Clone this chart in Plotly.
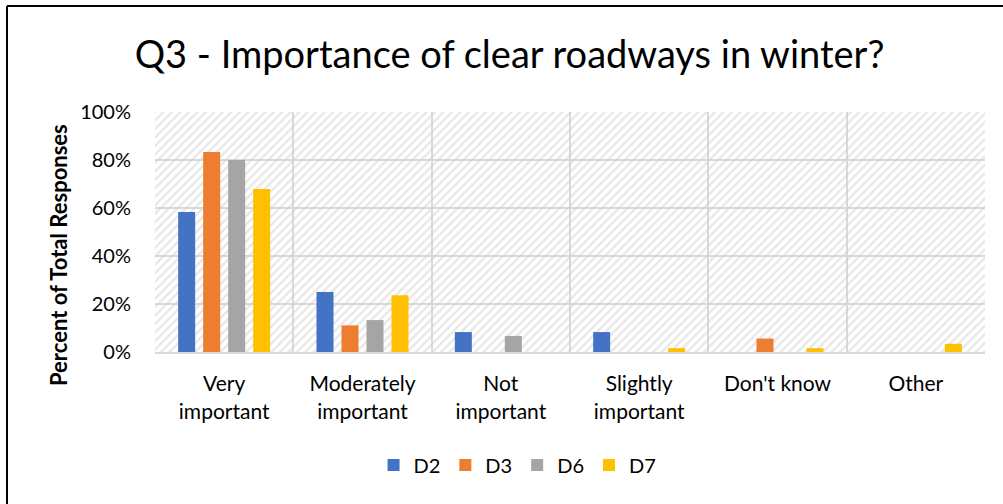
import plotly.graph_objects as go

categories = ["Very<br>important", "Moderately<br>important", "Not<br>important",
              "Slightly<br>important", "Don't know", "Other"]
series_names = ["D2", "D3", "D6", "D7"]
d2 = [58.3, 25.0, 8.3, 8.3, 0, 0]
d3 = [83.3, 11.1, 0, 0, 5.6, 0]
d6 = [80.0, 13.3, 6.7, 0, 0, 0]
d7 = [67.9, 23.6, 0, 1.6, 1.6, 3.4]
colors = ["#4472C4", "#ED7D31", "#A5A5A5", "#FFC000"]
y_ticks = [0, 20, 40, 60, 80, 100]
y_tick_labels = ["0%", "20%", "40%", "60%", "80%", "100%"]
y_title = "Percent of Total Responses"

FONT = "Lato, Calibri, Carlito, sans-serif"

fig = go.Figure()

# hatched plot-area background (on the base axis, drawn beneath the bars)
fig.add_trace(go.Bar(
    x=[0.5], y=[100], width=[1], xaxis="x", yaxis="y",
    marker=dict(color="rgba(0,0,0,0)", line=dict(width=0),
                pattern=dict(shape="/", size=6, solidity=0.4,
                             fgcolor="#d0d0d0", bgcolor="rgba(0,0,0,0)")),
    showlegend=False, hoverinfo="skip",
))

for name, vals, col in zip(series_names, [d2, d3, d6, d7], colors):
    fig.add_trace(go.Bar(x=categories, y=vals, name=name, marker_color=col,
                         marker_line_width=0, xaxis="x2", yaxis="y"))

L, R, T, B = 155, 18, 112, 152
W, H = 1003, 504
pw, ph = W - L - R, H - T - B

fig.update_layout(
    width=W, height=H,
    margin=dict(l=L, r=R, t=T, b=B),
    paper_bgcolor="white", plot_bgcolor="white",
    font=dict(family=FONT, color="#000000", size=20),
    barmode="group", bargap=0.277, bargroupgap=0.32,
    title=dict(text="Q3 - Importance of clear roadways in winter?",
               x=0.508, xref="container", xanchor="center",
               y=1 - 55 / H, yref="container", yanchor="middle",
               font=dict(size=38, family=FONT, color="#000000")),
    xaxis=dict(range=[0, 1], visible=False, showgrid=False, zeroline=False),
    xaxis2=dict(type="category", overlaying="x", side="bottom", anchor="y",
                tickson="boundaries", showgrid=True,
                gridcolor="#d9d9d9", gridwidth=2, ticks="", showline=True,
                linecolor="#d9d9d9", linewidth=2,
                tickfont=dict(size=21, family=FONT), ticklabelstandoff=12),
    yaxis=dict(range=[0, 100], tickvals=y_ticks, ticktext=y_tick_labels,
               showgrid=True, gridcolor="#d9d9d9", gridwidth=2, zeroline=False,
               ticks="", ticklabelstandoff=23,
               tickfont=dict(size=20, family=FONT)),
    legend=dict(orientation="h", x=0.516, xref="container", xanchor="center",
                y=1 - 465 / H, yref="container", yanchor="middle",
                font=dict(size=20, family=FONT), itemwidth=30,
                traceorder="normal"),
    annotations=[
        dict(text="<b>" + y_title + "</b>", textangle=-90,
             xref="paper", yref="paper",
             x=(58 - L) / pw, y=(H - B - 255) / ph,
             xanchor="center", yanchor="middle", showarrow=False,
             font=dict(size=22, family=FONT, color="#000000")),
    ],
    shapes=[
        dict(type="line", xref="paper", yref="paper",
             x0=(7 - L) / pw, x1=(W + 5 - L) / pw,
             y0=(H - B - 6) / ph, y1=(H - B - 6) / ph,
             line=dict(color="black", width=2)),
        dict(type="line", xref="paper", yref="paper",
             x0=(7 - L) / pw, x1=(7 - L) / pw,
             y0=(H - B - 6) / ph, y1=(H - B - H - 5) / ph,
             line=dict(color="black", width=2)),
    ],
)

fig.write_html("out.html", config={"displayModeBar": False},
               post_script="document.body.style.margin='0px';document.body.style.overflow='hidden';")
